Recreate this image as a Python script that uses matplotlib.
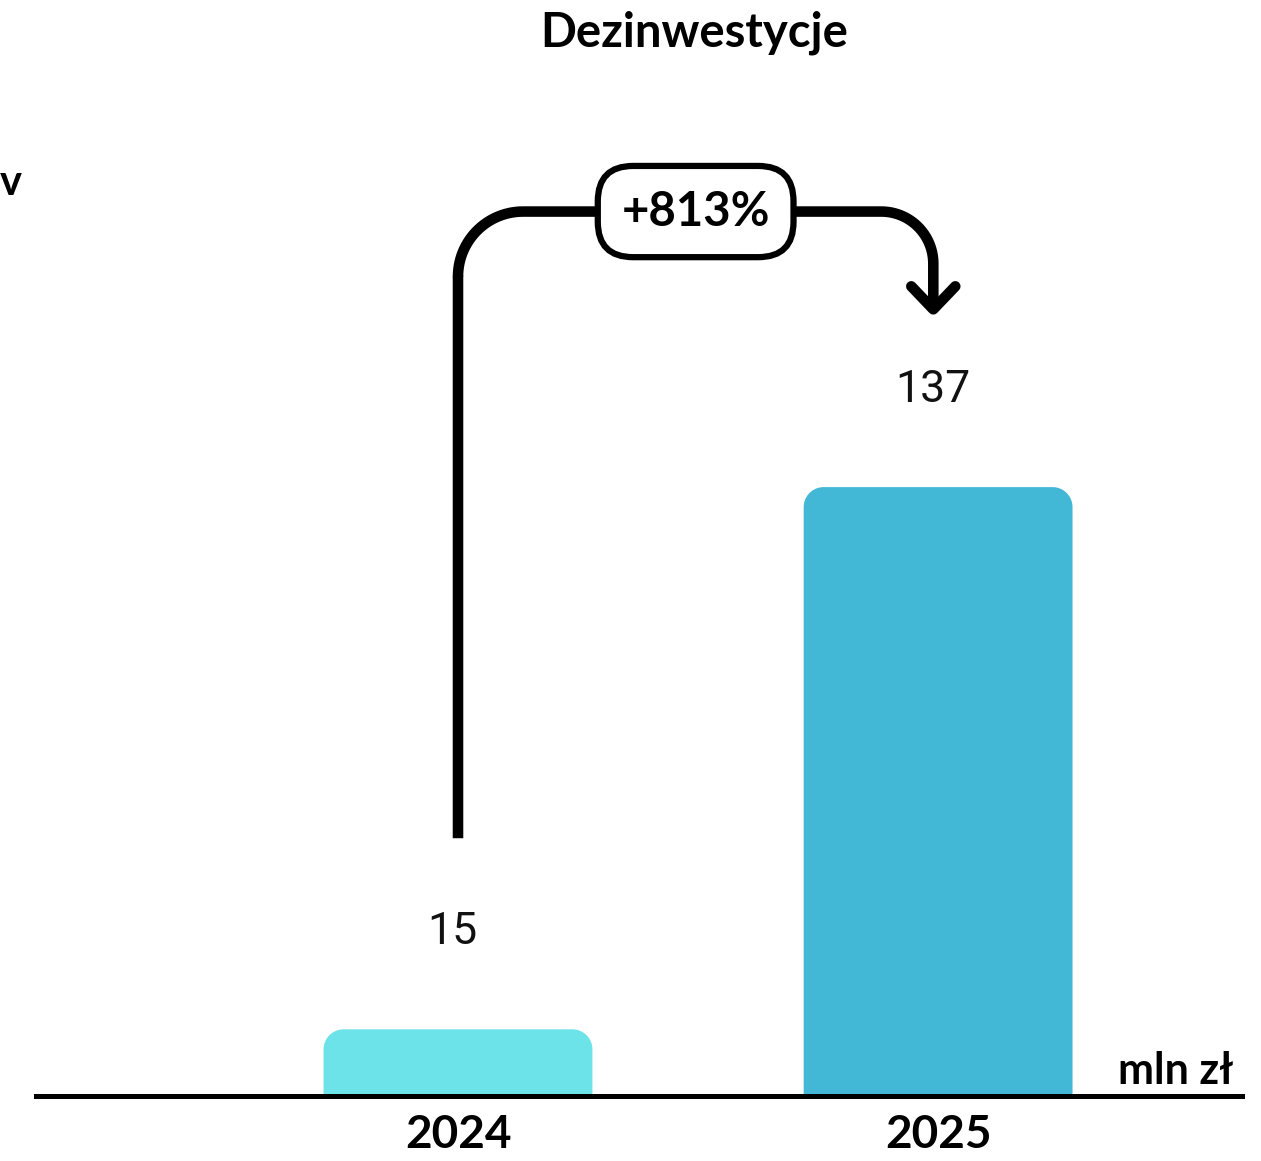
import numpy as np
import matplotlib
matplotlib.use('Agg')
import matplotlib.pyplot as plt
from matplotlib.patches import Polygon
from matplotlib.transforms import IdentityTransform

years = ['2024', '2025']
values = [15, 137]
colors = ['#6BE3E8', '#42B7D6']
change_label = '+813%'
title = 'Dezinwestycje'
unit = 'mln zł'

W, H = 1261, 1161
fig = plt.figure(figsize=(W / 100, H / 100), dpi=100)
ax = fig.add_axes([36 / W, 65 / H, 1206 / W, 996 / H])
ax.set_xlim(-0.879, 1.633)
ax.set_ylim(0, 224.1)
for s in ax.spines.values():
    s.set_visible(False)
ax.set_yticks([])

# px per data unit (for rounded corners)
p0 = ax.transData.transform((0, 0))
p1 = ax.transData.transform((1, 1))
sx, sy = p1[0] - p0[0], p1[1] - p0[1]

bw = 0.56
rx, ry = 20 / sx, 20 / sy


def bar_shape(xc, v, base=-1):
    x0, x1 = xc - bw / 2, xc + bw / 2
    t = np.linspace(np.pi, np.pi / 2, 20)
    left = np.column_stack([x0 + rx + rx * np.cos(t), v - ry + ry * np.sin(t)])
    t = np.linspace(np.pi / 2, 0, 20)
    right = np.column_stack([x1 - rx + rx * np.cos(t), v - ry + ry * np.sin(t)])
    return np.vstack([[x0, base], left, right, [x1, base]])


for i, (v, c) in enumerate(zip(values, colors)):
    ax.add_patch(Polygon(bar_shape(i, v), closed=True, fc=c, ec='none', zorder=2))
    ax.annotate(str(v), (i, v), xytext=(-4, 70), textcoords='offset points',
                ha='center', va='center', fontsize=32, family='Roboto', color='#111111')

ax.axhline(0, color='black', lw=3.6, zorder=3, clip_on=False)

ax.set_xticks([0, 1], years)
ax.tick_params(axis='x', length=0, pad=13)
for t in ax.get_xticklabels():
    t.set_fontsize(33)
    t.set_fontweight('bold')
    t.set_family('Lato')

# growth arrow (drawn in pixel space)
def px(x, y):
    return ax.transData.transform((x, y))

start = px(0, 58)
top_l = px(0, 199)
top_r = px(0.99, 199)
tip = px(0.99, 177)
r1, r2 = 65, 52
pts = [start, (start[0], top_l[1] - r1)]
t = np.linspace(np.pi, np.pi / 2, 30)
pts += list(zip(top_l[0] + r1 + r1 * np.cos(t), top_l[1] - r1 + r1 * np.sin(t)))
t = np.linspace(np.pi / 2, 0, 30)
pts += list(zip(top_r[0] - r2 + r2 * np.cos(t), top_l[1] - r2 + r2 * np.sin(t)))
pts.append(tip)
pts = np.array(pts)
ax.plot(pts[:, 0], pts[:, 1], color='black', lw=7.6, transform=IdentityTransform(),
        solid_capstyle='butt', solid_joinstyle='round', zorder=4, clip_on=False)
head = np.array([[tip[0] - 22, tip[1] + 23], [tip[0], tip[1]], [tip[0] + 22, tip[1] + 23]])
ax.plot(head[:, 0], head[:, 1], color='black', lw=7.6, transform=IdentityTransform(),
        solid_capstyle='round', solid_joinstyle='round', zorder=4, clip_on=False)

mid = ((top_l[0] + top_r[0]) / 2, top_l[1])
ax.text(mid[0], mid[1], change_label, transform=IdentityTransform(), ha='center', va='center',
        fontsize=34, fontweight='bold', family='Lato', zorder=5,
        bbox=dict(boxstyle='round,pad=0.5,rounding_size=0.75', fc='white', ec='black', lw=4.5))

fig.text(694 / W, 1 - 33 / H, title, ha='center', va='center', fontsize=34,
         fontweight='bold', family='Lato')
fig.text(1233 / W, 1 - 1071 / H, unit, ha='right', va='center', fontsize=31,
         fontweight='bold', family='Lato')
fig.text(0, 1 - 183 / H, 'v', ha='left', va='center', fontsize=30,
         fontweight='bold', family='Lato')

fig.savefig('out.png', dpi=100)
